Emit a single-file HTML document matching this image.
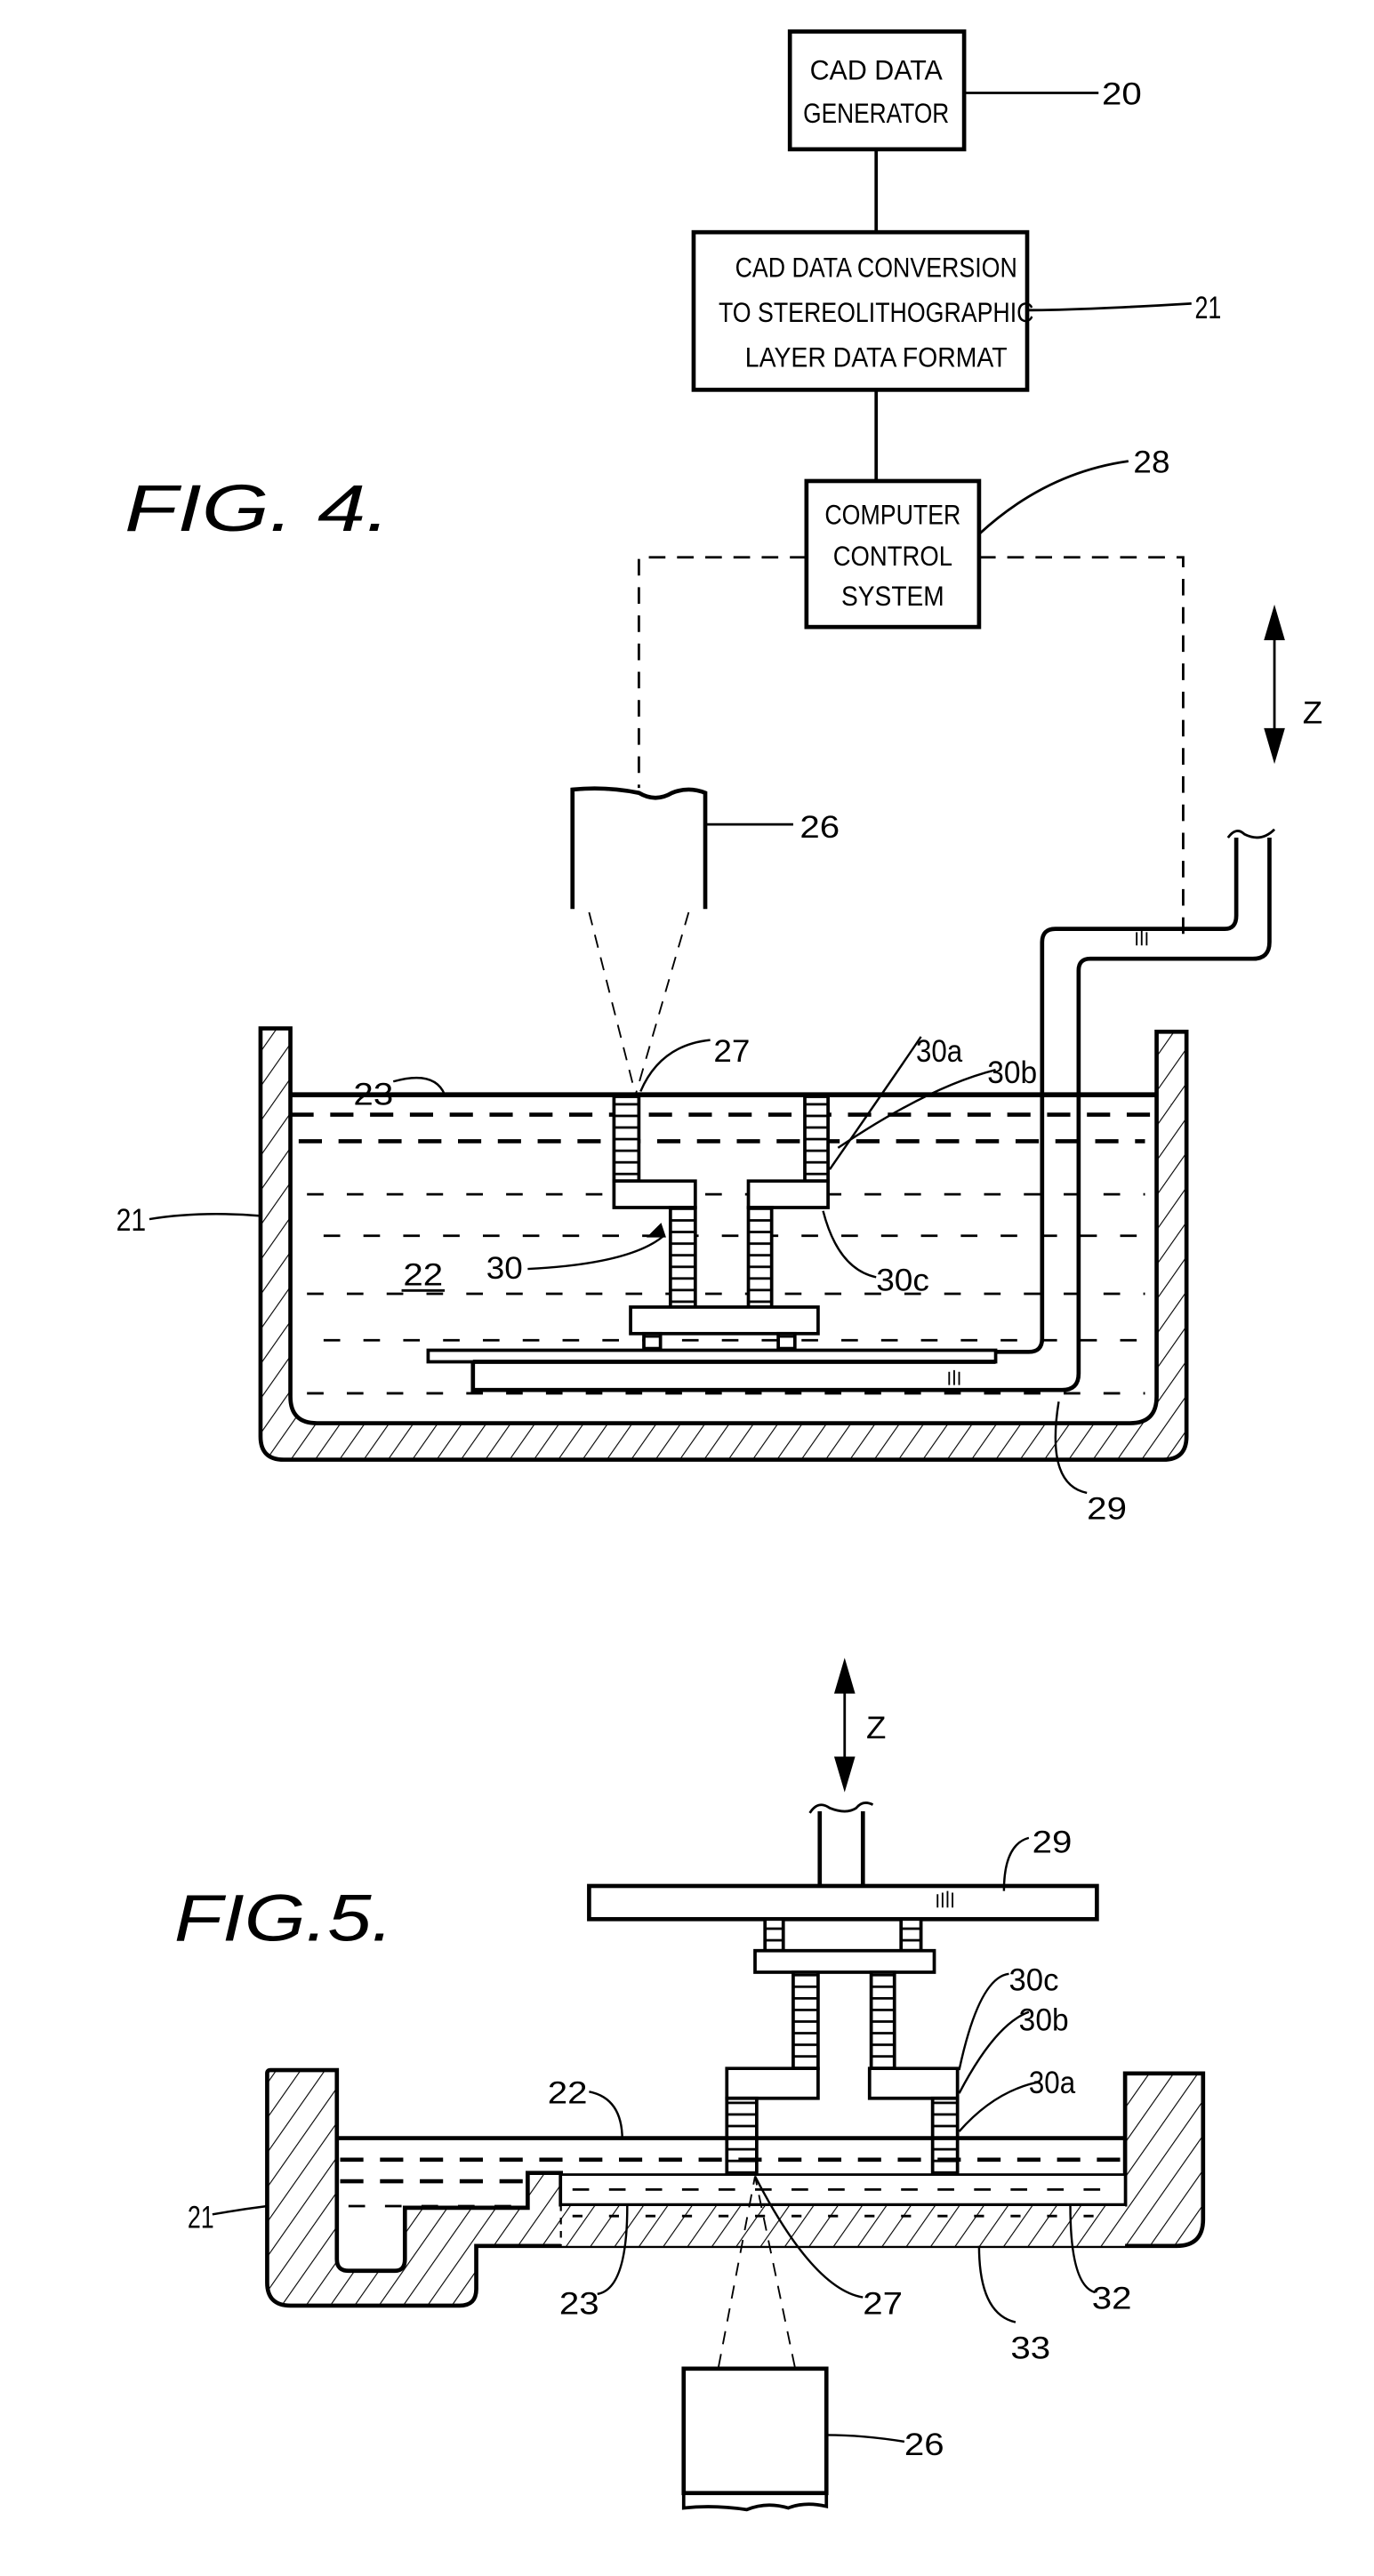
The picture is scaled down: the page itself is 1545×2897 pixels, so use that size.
<!DOCTYPE html>
<html><head><meta charset="utf-8"><style>
html,body{margin:0;padding:0;background:#fff;}
svg{display:block;}
text{font-family:"Liberation Sans",sans-serif;fill:#000;}
</style></head><body>
<svg width="1545" height="2897" viewBox="0 0 828 1553" preserveAspectRatio="none" xmlns="http://www.w3.org/2000/svg">
<defs>
<pattern id="h" width="12" height="12" patternUnits="userSpaceOnUse" patternTransform="rotate(35)">
<rect width="12" height="12" fill="#fff"/><line x1="0" y1="0" x2="0" y2="12" stroke="#000" stroke-width="1.2"/></pattern>
<pattern id="r" width="20" height="7" patternUnits="userSpaceOnUse">
<rect width="20" height="7" fill="#fff"/><line x1="0" y1="0.5" x2="20" y2="0.5" stroke="#000" stroke-width="2"/></pattern>
</defs>
<g fill="none" stroke="#000" stroke-width="2">
<rect x="476" y="19" width="105" height="71" stroke-width="2.5"/>
<line x1="528" y1="90" x2="528" y2="140"/>
<rect x="418" y="140" width="201" height="95" stroke-width="2.5"/>
<line x1="528" y1="235" x2="528" y2="290"/>
<rect x="486" y="290" width="104" height="88" stroke-width="2.5"/>
<line x1="581" y1="56" x2="662" y2="56" stroke-width="1.5"/>
<path d="M619,187 Q650,187 718,183" stroke-width="1.5"/>
<path d="M590,322 Q630,285 680,278" stroke-width="1.5"/>
<path d="M486,336 H385 V475 M590,336 H713 V570" stroke-dasharray="10,7" stroke-width="1.5"/>
<line x1="768" y1="375" x2="768" y2="450" stroke-width="1.5"/>
<path d="M763,385 L768,368 L773,385 Z M763,440 L768,457 L773,440 Z" fill="#000"/>
<path d="M345,548 V476 Q365,474 385,478 Q395,484 405,478 Q415,474 425,478 V548" stroke-width="2.5"/>
<line x1="425" y1="497" x2="478" y2="497" stroke-width="1.5"/>
<path d="M355,550 L383,660 M415,550 L383,660" stroke-dasharray="8,6" stroke-width="1"/>
<path d="M157,620 L175,620 L175,842 Q175,858 191,858 L681,858 Q697,858 697,842 L697,622 L715,622 L715,866 Q715,880 701,880 L171,880 Q157,880 157,866 Z" fill="url(#h)" stroke-width="2.5"/>
<line x1="175" y1="660" x2="697" y2="660" stroke-width="3"/>
<g stroke-dasharray="14,10" stroke-width="2.5">
<line x1="175" y1="672" x2="697" y2="672"/><line x1="180" y1="688" x2="690" y2="688"/>
</g>
<g stroke-dasharray="10,14" stroke-width="1.5">
<line x1="185" y1="720" x2="690" y2="720"/><line x1="195" y1="745" x2="690" y2="745"/>
<line x1="185" y1="780" x2="690" y2="780"/><line x1="195" y1="808" x2="690" y2="808"/><line x1="185" y1="840" x2="690" y2="840"/>
</g>
<rect x="370" y="661" width="15" height="51" fill="url(#r)"/>
<rect x="485" y="661" width="14" height="51" fill="url(#r)"/>
<path d="M370,712 H419 V728 H370 Z M451,712 H499 V728 H451 Z" fill="#fff"/>
<rect x="404" y="728" width="15" height="60" fill="url(#r)"/>
<rect x="451" y="728" width="14" height="60" fill="url(#r)"/>
<rect x="380" y="788" width="113" height="16" fill="#fff"/>
<rect x="388" y="804" width="10" height="12" fill="url(#r)"/>
<rect x="469" y="804" width="10" height="12" fill="url(#r)"/>
<path d="M258,814 H600 V821 H258 Z" fill="#fff"/>
<path d="M285,821 V838 H640 Q650,838 650,828 V585 Q650,578 657,578 H755 Q765,578 765,568 V505 M285,821 H600 M600,815 H620 Q628,815 628,807 V568 Q628,560 636,560 H738 Q745,560 745,552 V505" fill="none" stroke-width="2.5"/>
<path d="M740,505 Q745,498 750,503 Q760,508 768,500" stroke-width="1.5"/>
<path d="M237,652 Q262,645 268,660" stroke-width="1.3"/>
<path d="M386,658 Q398,630 428,627" stroke-width="1.3"/>
<path d="M555,625 Q545,640 500,705" stroke-width="1.3"/>
<path d="M600,645 Q560,655 505,692" stroke-width="1.3"/>
<path d="M90,735 Q120,730 157,733" stroke-width="1.3"/>
<path d="M318,765 Q380,762 400,745" stroke-width="1.3"/>
<path d="M400,745 L392,745 L398,739 Z" fill="#000"/>
<path d="M496,730 Q505,765 528,770" stroke-width="1.3"/>
<path d="M638,845 Q630,895 655,900" stroke-width="1.3"/>
<line x1="242" y1="778" x2="268" y2="778" stroke-width="1.5"/>

<line x1="509" y1="1012" x2="509" y2="1070" stroke-width="1.5"/>
<path d="M504,1020 L509,1003 L514,1020 Z M504,1060 L509,1077 L514,1060 Z" fill="#000"/>
<path d="M494,1137 V1092 M520,1092 V1137" stroke-width="2.5"/>
<path d="M488,1093 Q493,1085 500,1090 Q510,1094 516,1090 Q520,1085 526,1088" stroke-width="1.5"/>
<rect x="355" y="1137" width="306" height="20" fill="#fff" stroke-width="2.5"/>
<rect x="461" y="1157" width="11" height="19" fill="url(#r)"/>
<rect x="543" y="1157" width="12" height="19" fill="url(#r)"/>
<rect x="455" y="1176" width="108" height="13" fill="#fff"/>
<rect x="478" y="1189" width="15" height="58" fill="url(#r)"/>
<rect x="525" y="1189" width="14" height="58" fill="url(#r)"/>
<path d="M438,1247 H493 V1265 H438 Z M524,1247 H577 V1265 H524 Z" fill="#fff"/>
<rect x="438" y="1265" width="18" height="48" fill="url(#r)"/>
<rect x="562" y="1265" width="15" height="48" fill="url(#r)"/>
<path d="M161,1250 Q161,1248 163,1248 L203,1248 L203,1362 Q203,1369 210,1369 L238,1369 Q244,1369 244,1362 L244,1331 L318,1331 L318,1310 L338,1310 L338,1329 L678,1329 L678,1250 L725,1250 L725,1338 Q725,1354 709,1354 L287,1354 L287,1380 Q287,1390 277,1390 L175,1390 Q161,1390 161,1376 Z" fill="url(#h)" stroke-width="2.5"/>
<rect x="338" y="1329" width="340" height="25" fill="url(#h)" stroke="none"/>
<path d="M338,1329 H678" stroke-width="2"/>
<line x1="338" y1="1329" x2="338" y2="1354" stroke-dasharray="4,4" stroke-width="1.2"/>
<rect x="338" y="1311" width="340" height="18" fill="#fff" stroke-width="1.5"/>
<line x1="203" y1="1289" x2="678" y2="1289" stroke-width="2.5"/>
<g stroke-dasharray="14,10" stroke-width="2.5">
<line x1="205" y1="1302" x2="675" y2="1302"/><line x1="205" y1="1315" x2="318" y2="1315"/>
</g>
<g stroke-dasharray="10,12" stroke-width="1.5">
<line x1="345" y1="1320" x2="675" y2="1320"/><line x1="210" y1="1330" x2="310" y2="1330"/>
<line x1="345" y1="1336" x2="675" y2="1336" stroke-dasharray="6,16"/>
</g>
<rect x="412" y="1428" width="86" height="75" fill="#fff" stroke-width="2.5"/>
<path d="M412,1503 V1512 Q430,1510 450,1513 Q462,1508 475,1512 Q485,1508 498,1511 V1503" stroke-width="2"/>
<path d="M433,1427 L455,1312 M479,1427 L455,1312" stroke-dasharray="8,6" stroke-width="1"/>
<path d="M620,1108 Q605,1112 605,1140" stroke-width="1.3"/>
<path d="M608,1190 Q590,1192 578,1248" stroke-width="1.3"/>
<path d="M620,1213 Q600,1220 578,1262" stroke-width="1.3"/>
<path d="M627,1255 Q600,1260 578,1285" stroke-width="1.3"/>
<path d="M355,1261 Q375,1265 375,1290" stroke-width="1.3"/>
<path d="M128,1335 Q145,1332 161,1330" stroke-width="1.3"/>
<path d="M360,1383 Q378,1380 378,1330" stroke-width="1.3"/>
<path d="M520,1385 Q490,1380 455,1312" stroke-width="1.3"/>
<path d="M660,1382 Q645,1378 645,1330" stroke-width="1.3"/>
<path d="M612,1400 Q590,1395 590,1354" stroke-width="1.3"/>
<path d="M498,1468 Q520,1468 545,1472" stroke-width="1.3"/>
</g>
<g stroke="#000" stroke-width="1" fill="none">
<path d="M565,1150 v-8 M568,1150 v-9 M571,1150 v-10 M574,1150 v-9"/>
<path d="M572,835 v-8 M575,835 v-9 M578,835 v-8"/>
<path d="M685,570 v-8 M688,570 v-9 M691,570 v-8"/>
</g>
<g font-size="17" text-anchor="middle">
<text x="528" y="48" textLength="80" lengthAdjust="spacingAndGlyphs">CAD  DATA</text>
<text x="528" y="74" textLength="88" lengthAdjust="spacingAndGlyphs">GENERATOR</text>
<text x="528" y="167" textLength="170" lengthAdjust="spacingAndGlyphs">CAD  DATA CONVERSION</text>
<text x="528" y="194" textLength="190" lengthAdjust="spacingAndGlyphs">TO STEREOLITHOGRAPHIC</text>
<text x="528" y="221" textLength="158" lengthAdjust="spacingAndGlyphs">LAYER DATA FORMAT</text>
<text x="538" y="316" textLength="82" lengthAdjust="spacingAndGlyphs">COMPUTER</text>
<text x="538" y="341" textLength="72" lengthAdjust="spacingAndGlyphs">CONTROL</text>
<text x="538" y="365" textLength="62" lengthAdjust="spacingAndGlyphs">SYSTEM</text>
</g>
<g font-size="19">
<text x="664" y="63" textLength="24" lengthAdjust="spacingAndGlyphs">20</text>
<text x="720" y="192" textLength="16" lengthAdjust="spacingAndGlyphs">21</text>
<text x="683" y="285" textLength="22" lengthAdjust="spacingAndGlyphs">28</text>
<text x="785" y="436" textLength="12" lengthAdjust="spacingAndGlyphs">Z</text>
<text x="482" y="505" textLength="24" lengthAdjust="spacingAndGlyphs">26</text>
<text x="213" y="666" textLength="24" lengthAdjust="spacingAndGlyphs">23</text>
<text x="430" y="640" textLength="22" lengthAdjust="spacingAndGlyphs">27</text>
<text x="552" y="640" textLength="28" lengthAdjust="spacingAndGlyphs">30a</text>
<text x="595" y="653" textLength="30" lengthAdjust="spacingAndGlyphs">30b</text>
<text x="70" y="742" textLength="18" lengthAdjust="spacingAndGlyphs">21</text>
<text x="293" y="771" textLength="22" lengthAdjust="spacingAndGlyphs">30</text>
<text x="243" y="775" textLength="24" lengthAdjust="spacingAndGlyphs">22</text>
<text x="528" y="778" textLength="32" lengthAdjust="spacingAndGlyphs">30c</text>
<text x="655" y="916" textLength="24" lengthAdjust="spacingAndGlyphs">29</text>
<text x="522" y="1048" textLength="12" lengthAdjust="spacingAndGlyphs">Z</text>
<text x="622" y="1117" textLength="24" lengthAdjust="spacingAndGlyphs">29</text>
<text x="608" y="1200" textLength="30" lengthAdjust="spacingAndGlyphs">30c</text>
<text x="614" y="1224" textLength="30" lengthAdjust="spacingAndGlyphs">30b</text>
<text x="620" y="1262" textLength="28" lengthAdjust="spacingAndGlyphs">30a</text>
<text x="330" y="1268" textLength="24" lengthAdjust="spacingAndGlyphs">22</text>
<text x="113" y="1343" textLength="16" lengthAdjust="spacingAndGlyphs">21</text>
<text x="337" y="1395" textLength="24" lengthAdjust="spacingAndGlyphs">23</text>
<text x="520" y="1395" textLength="24" lengthAdjust="spacingAndGlyphs">27</text>
<text x="658" y="1392" textLength="24" lengthAdjust="spacingAndGlyphs">32</text>
<text x="609" y="1422" textLength="24" lengthAdjust="spacingAndGlyphs">33</text>
<text x="545" y="1480" textLength="24" lengthAdjust="spacingAndGlyphs">26</text>
</g>
<g font-size="40" font-style="italic">
<text x="75" y="320" textLength="160" lengthAdjust="spacingAndGlyphs">FIG. 4.</text>
<text x="105" y="1170" textLength="132" lengthAdjust="spacingAndGlyphs">FIG.5.</text>
</g>
</svg>
</body></html>
